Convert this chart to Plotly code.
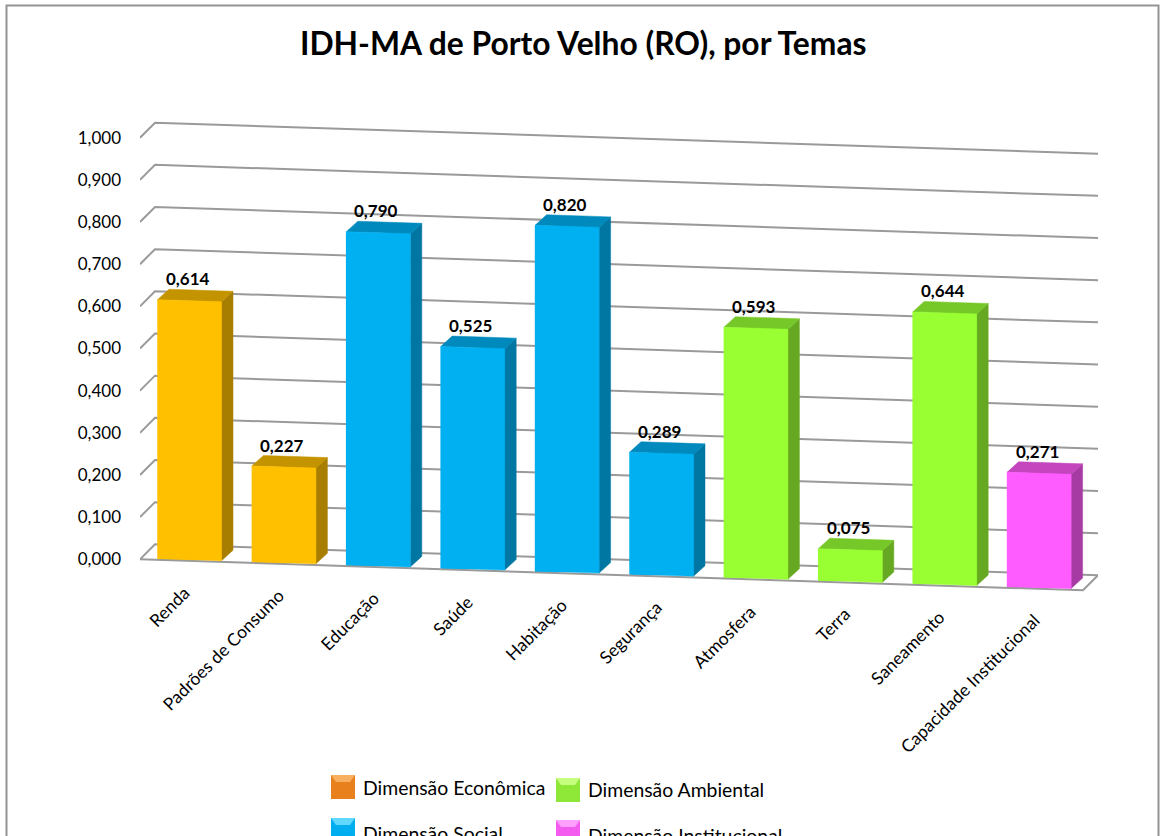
import plotly.graph_objects as go

categories = ["Renda", "Padrões de Consumo", "Educação", "Saúde", "Habitação",
              "Segurança", "Atmosfera", "Terra", "Saneamento", "Capacidade Institucional"]
values = [0.614, 0.227, 0.790, 0.525, 0.820, 0.289, 0.593, 0.075, 0.644, 0.271]
dimensions = ["eco", "eco", "soc", "soc", "soc", "soc", "amb", "amb", "amb", "ins"]
y_ticks = [0.0, 0.1, 0.2, 0.3, 0.4, 0.5, 0.6, 0.7, 0.8, 0.9, 1.0]

front = {"eco": "#FFC000", "soc": "#00B0F0", "amb": "#99FF33", "ins": "#FF5CFF"}
top_c = {"eco": "#C49400", "soc": "#0089BC", "amb": "#76C828", "ins": "#C445BE"}
side = {"eco": "#A87E00", "soc": "#0076A3", "amb": "#66A821", "ins": "#A63CA3"}

W, H = 1160, 836
FONT = "Lato"
GRID = "#9a9a9a"

# pseudo-3D geometry (pixels per unit of the axes)
PX_CAT = 94.4      # pixels per category
PX_VAL = 421.6     # pixels per value unit
X0 = 189.5         # pixel of the first category
Y0 = 559.3         # pixel of value 0 at the front-left corner
L, R, T, B = 140, 1098, 100, 600
SLOPE = 31 / 943   # downward tilt of the floor, pixels per pixel


def dx(px):
    return px / PX_CAT


def dv(px):
    return px / PX_VAL


xl = (L - X0) / PX_CAT
xr = (R - X0) / PX_CAT


def tilt(x):
    """Value-axis drop of the floor at category position x, from the left wall."""
    return -dv(SLOPE * (x - xl) * PX_CAT)


WALL_X, WALL_V = dx(15), dv(15)
BAR_W = dx(64)
DEPTH_X, DEPTH_V = dx(11.5), dv(10.5)
BAR_LIFT = dv(1.3)

fig = go.Figure()


def poly(xs, ys, color, **kw):
    fig.add_trace(go.Scatter(x=xs, y=ys, mode="lines", fill="toself", fillcolor=color,
                             line=dict(color=color, width=0.5), hoverinfo="skip",
                             showlegend=False, cliponaxis=False, **kw))


# walls and floor
for v in y_ticks:
    fig.add_trace(go.Scatter(
        x=[xl, xl + WALL_X, xr],
        y=[v, v + WALL_V, v + WALL_V + tilt(xr - WALL_X)],
        mode="lines", line=dict(color=GRID, width=2),
        hoverinfo="skip", showlegend=False, cliponaxis=False))
fx = xr - WALL_X
fig.add_trace(go.Scatter(
    x=[xl, fx, xr], y=[0, tilt(fx), WALL_V + tilt(fx)],
    mode="lines", line=dict(color=GRID, width=2),
    hoverinfo="skip", showlegend=False, cliponaxis=False))

# bars: value on top of the tilted floor
bases = [tilt(i) + BAR_LIFT for i in range(len(values))]
fig.add_trace(go.Bar(
    x=list(range(len(values))), y=values, base=bases, width=BAR_W,
    marker=dict(color=[front[d] for d in dimensions], line=dict(width=0)),
    customdata=categories, hovertemplate="%{customdata}: %{y:.3f}<extra></extra>",
    showlegend=False))

for i, (v, d) in enumerate(zip(values, dimensions)):
    a, b = i - BAR_W / 2, i + BAR_W / 2
    ba, bb = tilt(a) + BAR_LIFT, tilt(b) + BAR_LIFT
    ta, tb = ba + v, bb + v
    poly([b, b + DEPTH_X, b + DEPTH_X, b, b],
         [tb, tb + DEPTH_V, bb + DEPTH_V, bb, tb], side[d])
    poly([a, b, b + DEPTH_X, a + DEPTH_X, a],
         [ta, tb, tb + DEPTH_V, ta + DEPTH_V, ta], top_c[d])
    poly([a, b, b, a, a], [ba, bb, tb, ta, ba], front[d])

annotations = []
for i, (c, v) in enumerate(zip(categories, values)):
    y_top = tilt(i) + BAR_LIFT + v + DEPTH_V
    annotations.append(dict(
        x=i, y=y_top, xref="x", yref="y", xshift=-2, yshift=-1,
        text="<b>" + f"{v:.3f}".replace(".", ",") + "</b>",
        showarrow=False, yanchor="bottom", xanchor="center",
        font=dict(family=FONT, size=17, color="#000000")))
    annotations.append(dict(
        x=i, y=tilt(i), xref="x", yref="y", xshift=7, yshift=-18,
        text=c, textangle=-45, showarrow=False, xanchor="right", yanchor="top",
        font=dict(family=FONT, size=17.5, color="#000000")))

# legend (two columns, cut by the bottom of the picture in the reference)
legend_items = [
    ("Dimensão Econômica", "#E8801E", "#F8B060", 331, 775, 787),
    ("Dimensão Ambiental", "#8FE838", "#C4FF80", 556, 778, 789),
    ("Dimensão Social", "#00AEEF", "#60D8FF", 331, 818, 833),
    ("Dimensão Institucional", "#F45CF0", "#FFA0FF", 556, 820, 835),
]
pw, ph = R - L, B - T


def pxx(p):
    return (p - L) / pw


def pxy(p):
    return 1 - (p - T) / ph


shapes = [dict(type="path", xref="paper", yref="paper",
               path=f"M {pxx(6.5)} {pxy(900)} L {pxx(6.5)} {pxy(5.5)} "
                    f"L {pxx(1158.5)} {pxy(5.5)} L {pxx(1158.5)} {pxy(900)}",
               line=dict(color="#949494", width=2))]
for name, col, light, sx, sy, ty in legend_items:
    shapes.append(dict(type="rect", xref="paper", yref="paper",
                       x0=pxx(sx), x1=pxx(sx + 24), y0=pxy(sy), y1=pxy(sy + 24),
                       fillcolor=col, line=dict(width=0), layer="above"))
    shapes.append(dict(type="path", xref="paper", yref="paper", layer="above",
                       path=f"M {pxx(sx)} {pxy(sy)} L {pxx(sx + 24)} {pxy(sy)} "
                            f"L {pxx(sx + 19)} {pxy(sy + 7)} L {pxx(sx + 5)} {pxy(sy + 7)} Z",
                       fillcolor=light, line=dict(width=0)))
    annotations.append(dict(
        x=pxx(sx + 30), y=pxy(ty), xref="paper", yref="paper", text=name,
        showarrow=False, xanchor="left", yanchor="middle",
        font=dict(family=FONT, size=19.4, color="#000000")))

annotations.append(dict(
    x=pxx(583), y=pxy(43), xref="paper", yref="paper",
    text="<b>IDH-MA de Porto Velho (RO), por Temas</b>",
    showarrow=False, xanchor="center", yanchor="middle",
    font=dict(family=FONT, size=31.8, color="#000000")))

fig.update_layout(
    width=W, height=H, autosize=False, paper_bgcolor="white", plot_bgcolor="rgba(0,0,0,0)",
    margin=dict(l=L, r=W - R, t=T, b=H - B, pad=0),
    font=dict(family=FONT, color="#000000"),
    showlegend=False, barmode="overlay", bargap=0,
    xaxis=dict(range=[xl, xr], showgrid=False, zeroline=False, showline=False,
               tickvals=[], showticklabels=False, fixedrange=True),
    yaxis=dict(range=[(Y0 - B) / PX_VAL, (Y0 - T) / PX_VAL], showgrid=False, zeroline=False,
               showline=False, tickvals=y_ticks,
               ticktext=[f"{v:.3f}".replace(".", ",") for v in y_ticks],
               ticks="", ticklabelstandoff=18, tickfont=dict(family=FONT, size=17, color="#000000"),
               fixedrange=True),
    shapes=shapes, annotations=annotations,
)
fig.write_html("out.html", config={"displayModeBar": False},
               post_script="document.body.style.margin='0';document.documentElement.style.overflow='hidden';")
